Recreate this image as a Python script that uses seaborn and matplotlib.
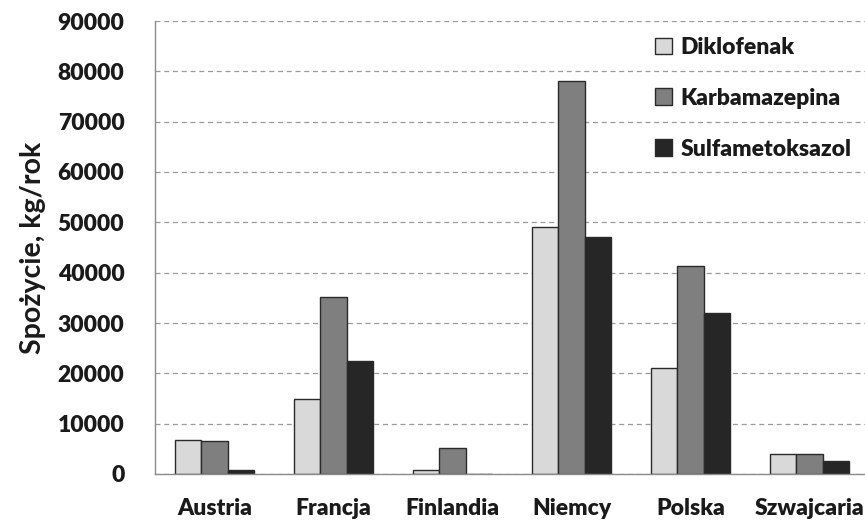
import matplotlib
matplotlib.use("Agg")
import matplotlib.pyplot as plt
import seaborn as sns
import pandas as pd
import numpy as np

countries = ["Austria", "Francja", "Finlandia", "Niemcy", "Polska", "Szwajcaria"]
substances = ["Diklofenak", "Karbamazepina", "Sulfametoksazol"]
diklofenak = [6800, 15000, 700, 49000, 21000, 4000]
karbamazepina = [6500, 35200, 5200, 78000, 41300, 4000]
sulfametoksazol = [700, 22500, 0, 47000, 32000, 2500]
y_ticks = [0, 10000, 20000, 30000, 40000, 50000, 60000, 70000, 80000, 90000]

df = pd.DataFrame({
    "kraj": countries * 3,
    "substancja": np.repeat(substances, len(countries)),
    "wartosc": diklofenak + karbamazepina + sulfametoksazol,
})

sns.set_theme(style="white")
plt.rcParams["font.family"] = ["Lato", "DejaVu Sans"]
plt.rcParams["font.weight"] = "bold"

fig = plt.figure(figsize=(8.65, 5.29), dpi=100)
ax = fig.add_axes([155 / 865, 1 - 474 / 529, 714 / 865, 453 / 529])

palette = ["#d9d9d9", "#7f7f7f", "#262626"]
sns.barplot(data=df, x="kraj", y="wartosc", hue="substancja",
            hue_order=substances, palette=palette, width=0.67,
            edgecolor="#2a2a2a", linewidth=1.0, saturation=1,
            ax=ax, legend=True)

ax.set_xlim(-0.5, 5.5)
ax.set_ylim(0, 90000)
ax.set_yticks(y_ticks)
ax.set_yticklabels([str(v) for v in y_ticks], fontsize=16.5, fontweight="heavy", color="#1a1a1a")
ax.yaxis.grid(True, linestyle=(0, (4, 3)), color="#9a9a9a", linewidth=0.9)
ax.set_axisbelow(True)

ax.set_xticks(range(len(countries)))
ax.set_xticklabels(countries, fontsize=16.5, fontweight="heavy", color="#1a1a1a")
ax.tick_params(axis="x", which="major", length=0, pad=17)
ax.set_xticks(np.arange(-0.5, 5.6, 1.0), minor=True)
ax.tick_params(axis="x", which="minor", length=6, color="#8c8c8c", width=1, direction="out")
ax.tick_params(axis="y", length=9, color="#9a9a9a", width=0.9, direction="out", pad=13)

for side in ["top", "right"]:
    ax.spines[side].set_visible(False)
ax.spines["left"].set_color("#8c8c8c")
ax.spines["bottom"].set_color("#8c8c8c")
ax.spines["left"].set_linewidth(1)
ax.spines["bottom"].set_linewidth(1)

ax.set_xlabel("")
ax.set_ylabel("Spożycie, kg/rok", fontsize=20.5, fontweight="bold", color="#1a1a1a", labelpad=8)

leg = ax.legend(loc="upper left", bbox_to_anchor=((655 - 155) / 714, (474 - 37) / 453),
                frameon=False, fontsize=16.5, handlelength=0.75, handleheight=0.75,
                handletextpad=0.35, labelspacing=1.3, borderaxespad=0, borderpad=0)
for t in leg.get_texts():
    t.set_fontweight("heavy")
    t.set_color("#1a1a1a")

fig.savefig("out.png", dpi=100, facecolor="white")
